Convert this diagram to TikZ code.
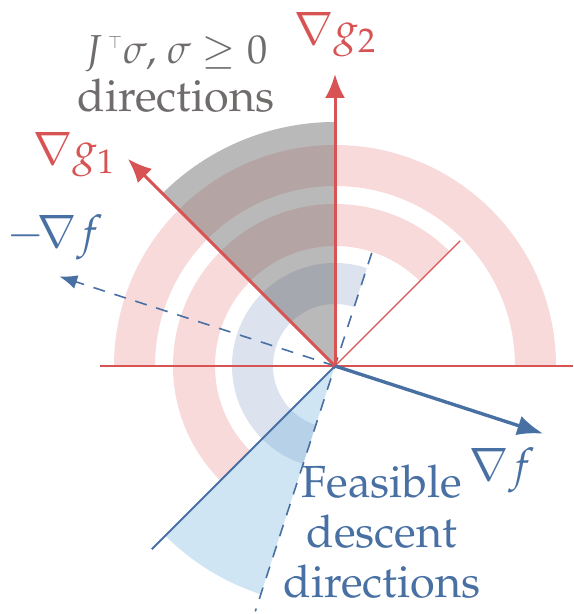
\documentclass[tikz,border=0pt]{standalone}
\usepackage[T1]{fontenc}
\usepackage{mathpazo}
\usetikzlibrary{arrows.meta}
\definecolor{gred}{RGB}{216,84,84}
\definecolor{gpink}{RGB}{248,218,219}
\definecolor{gblue}{RGB}{72,112,163}
\definecolor{gband}{RGB}{220,227,238}
\definecolor{gsky}{RGB}{100,170,220}
\definecolor{gtext}{RGB}{112,108,108}
\newcommand{\ringpart}[5]{\fill[#1] (#2:#4) arc[start angle=#2,end angle=#3,radius=#4] -- (#3:#5) arc[start angle=#3,end angle=#2,radius=#5] -- cycle;}
\newcommand{\smalltop}{\mbox{\fontsize{9.5}{9.5}\selectfont$\top$}}
\begin{document}
\begin{tikzpicture}[x=0.5pt,y=0.5pt,
  redarrow/.style={draw=gred,line width=1.5pt,-{Latex[length=12pt,width=10pt]}},
  redline/.style={draw=gred,line width=1pt},
  bluearrow/.style={draw=gblue,line width=1.7pt,-{Latex[length=13pt,width=10pt]}},
  bluedash/.style={draw=gblue,line width=0.8pt,dash pattern=on 6pt off 5pt},
  lbl/.style={inner sep=0pt,font=\fontsize{22.5}{25}\selectfont},
]
\useasboundingbox (-335,-248) rectangle (238,366);
% bands
\ringpart{gpink}{0}{180}{180}{221}
\ringpart{gpink}{45}{225}{120}{162}
\ringpart{gband}{72}{252}{62}{103}
% sectors
\fill[gsky,fill opacity=0.3] (0,0) -- (225:240) arc[start angle=225,end angle=252,radius=240] -- cycle;
\fill[black!61,fill opacity=0.45] (0,0) -- (90:244) arc[start angle=90,end angle=135,radius=244] -- cycle;
% coordinates
\coordinate (O) at (0,0);
\coordinate (hl) at (-235,0);
\coordinate (hr) at (238,0);
\coordinate (d45) at (45:177);
\coordinate (g2tip) at (90:292);
\coordinate (g1tip) at (135:293);
\coordinate (b225) at (225:259);
\coordinate (dup) at (72:119);
\coordinate (ddown) at (252:258);
\coordinate (mftip) at (162:290);
\coordinate (ftip) at (-18:219);
% lines
\draw[redline] (hl) -- (hr);
\draw[draw=gred,line width=0.7pt] (O) -- (d45);
\draw[draw=gblue,line width=1pt] (O) -- (b225);
\draw[bluedash] (dup) -- (ddown);
\draw[bluedash,-{Latex[length=9pt,width=7pt]}] (O) -- (mftip);
\draw[redarrow] (O) -- (g2tip);
\draw[redarrow] (O) -- (g1tip);
\draw[bluearrow] (O) -- (ftip);
% labels
\node[lbl,text=gred] (lg2) at (0,331) {$\nabla g_2$};
\node[lbl,text=gred] (lg1) at (-261,211) {$\nabla g_1$};
\node[lbl,text=gtext,align=center,font=\fontsize{22.5}{24}\selectfont] (ljs) at (-159,292) {\resizebox{91.5pt}{!}{$J^{\,\smalltop}\sigma$, $\sigma \geq 0$}\\directions};
\node[lbl,text=gblue] (lmf) at (-280,129) {$-\!\nabla f$};
\node[lbl,text=gblue] (lf) at (167,-104) {$\nabla f$};
\node[lbl,text=gblue,align=center] (lfd) at (47,-166) {Feasible\\descent\\directions};
\end{tikzpicture}
\end{document}
